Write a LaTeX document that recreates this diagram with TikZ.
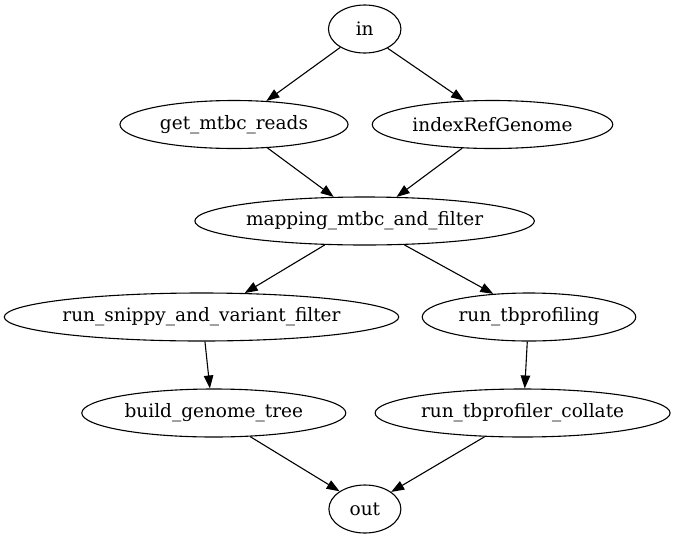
\documentclass[tikz,border=0pt]{standalone}
\usepackage{fontspec}
\setmainfont{DejaVu Serif}
\usetikzlibrary{shapes.geometric,arrows.meta}
\begin{document}
\begin{tikzpicture}[x=1pt,y=-1pt,
  proc/.style={draw,ellipse,line width=1.1pt,inner sep=0pt,minimum height=48pt,
    font=\fontsize{18.5}{22}\selectfont},
  edge/.style={line width=1.1pt,-{Triangle[length=13pt,width=9.5pt]}}]
\useasboundingbox (0,0) rectangle (675,539);
\node[proc,minimum width=72.5pt]  (in)      at (364.7,29)  {in};
\node[proc,minimum width=228pt]   (get)     at (234,124.5) {get\_mtbc\_reads};
\node[proc,minimum width=240.5pt] (idx)     at (492.5,124.5) {indexRefGenome};
\node[proc,minimum width=339.5pt] (map)     at (364.6,221) {mapping\_mtbc\_and\_filter};
\node[proc,minimum width=394.5pt] (snippy)  at (201.5,317) {run\_snippy\_and\_variant\_filter};
\node[proc,minimum width=213.5pt] (tbp)     at (529,317)   {run\_tbprofiling};
\node[proc,minimum width=264pt]   (tree)    at (213.8,413) {build\_genome\_tree};
\node[proc,minimum width=295pt]   (coll)    at (522.6,413) {run\_tbprofiler\_collate};
\node[proc,minimum width=72pt]    (out)     at (364.9,509) {out};
\draw[edge] (in.217.7)   -- (get.36.8);
\draw[edge] (in.320.7)   -- (idx.140.8);
\draw[edge] (get.-35.8)  -- (map.142.2);
\draw[edge] (idx.218.4)  -- (map.37.3);
\draw[edge] (map.211.8)  -- (snippy.29.4);
\draw[edge] (map.-31.5)  -- (tbp.147.8);
\draw[edge] (snippy.-82.6) -- (tree.99.3);
\draw[edge] (tbp.266.8)  -- (coll.85.2);
\draw[edge] (tree.-33.9) -- (out.145.6);
\draw[edge] (coll.212.9) -- (out.33.6);
\end{tikzpicture}
\end{document}
